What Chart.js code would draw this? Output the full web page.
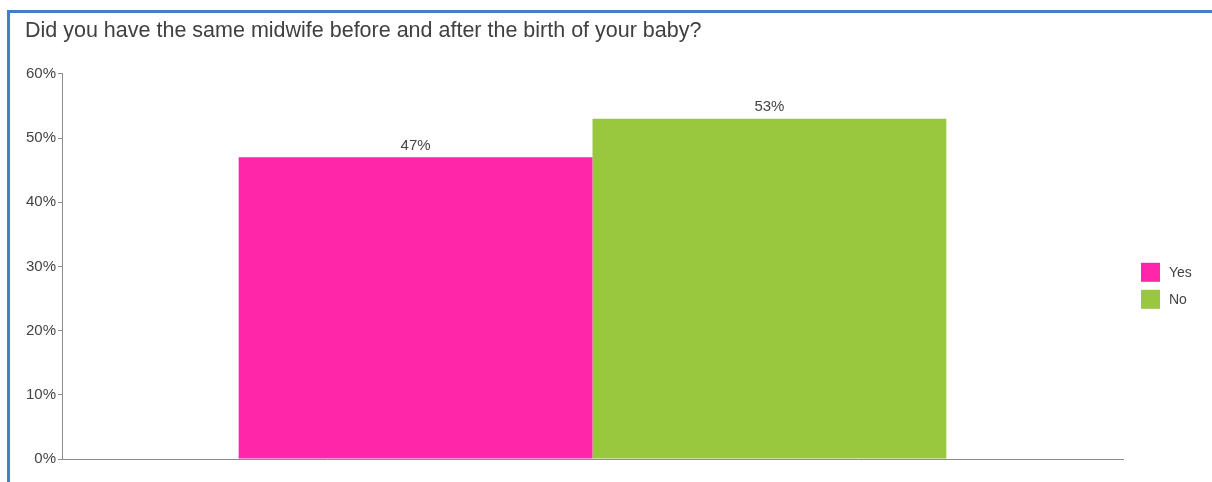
<!DOCTYPE html>
<html>
<head>
<meta charset="utf-8">
<script src="https://cdn.jsdelivr.net/npm/chart.js@4"></script>
<style>
  html, body { margin: 0; padding: 0; background: #fff; overflow: hidden; }
  #wrap { position: relative; width: 1212px; height: 482px; }
  #frame {
    position: absolute; left: 7px; top: 10px; width: 1300px; height: 600px;
    border-left: 3px solid #4a7bcb; border-top: 3px solid #4a7bcb;
  }
  #chart { position: absolute; left: 0; top: 0; }
</style>
</head>
<body>
<div id="wrap">
  <div id="frame"></div>
  <canvas id="chart" width="1212" height="482"></canvas>
</div>
<script>
// Survey answers, percent of respondents
const question = "Did you have the same midwife before and after the birth of your baby?";
const categories = [""];
const answers = ["Yes", "No"];
const percents = [47, 53];
const colors = ["#ff26aa", "#99c73d"];
const yTicks = [0, 10, 20, 30, 40, 50, 60];

const FONT = "'Liberation Sans', Arial, sans-serif";
const TEXT = "#444444";

// value labels above each bar
const barLabels = {
    id: "barLabels",
    afterDatasetsDraw(chart) {
        const ctx = chart.ctx;
        ctx.save();
        ctx.font = "15px " + FONT;
        ctx.fillStyle = TEXT;
        ctx.textAlign = "center";
        ctx.textBaseline = "bottom";
        chart.data.datasets.forEach((ds, i) => {
            const bar = chart.getDatasetMeta(i).data[0];
            ctx.fillText(Math.round(ds.data[0]) + "%", bar.x, bar.y - 4);
        });
        ctx.restore();
    }
};

// legend to the right of the plot
const sideLegend = {
    id: "sideLegend",
    afterDraw(chart) {
        const ctx = chart.ctx;
        const x = chart.chartArea.right + 18;
        let y = chart.chartArea.top + 189;
        ctx.save();
        ctx.font = "14px " + FONT;
        ctx.textBaseline = "middle";
        chart.data.datasets.forEach(ds => {
            ctx.fillStyle = ds.backgroundColor;
            ctx.fillRect(x, y, 19, 19);
            ctx.fillStyle = TEXT;
            ctx.fillText(ds.label, x + 28, y + 10);
            y += 27;
        });
        ctx.restore();
    }
};

const config = {
    type: "bar",
    data: {
        labels: categories,
        datasets: answers.map((name, i) => ({
            label: name,
            data: [percents[i]],
            backgroundColor: colors[i],
            borderWidth: 0
        }))
    },
    options: {
        responsive: false,
        animation: false,
        devicePixelRatio: 1,
        categoryPercentage: 0.667,
        barPercentage: 1,
        layout: { padding: { left: 25, right: 89, top: 0, bottom: 23 } },
        plugins: {
            legend: { display: false },
            tooltip: { enabled: false },
            title: {
                display: true,
                text: question,
                align: "start",
                color: "#404040",
                font: { family: FONT, size: 21.5, weight: "normal" },
                padding: { top: 18, bottom: 30 }
            }
        },
        scales: {
            x: {
                ticks: { display: false },
                grid: { display: false },
                border: { color: "#8c8c8c", width: 1 },
                afterFit(scale) { scale.height = 0; }
            },
            y: {
                min: yTicks[0],
                max: yTicks[yTicks.length - 1],
                afterBuildTicks(scale) { scale.ticks = yTicks.map(v => ({ value: v })); },
                ticks: {
                    color: TEXT,
                    font: { family: FONT, size: 15 },
                    padding: 2,
                    callback: v => v + "%"
                },
                grid: { drawOnChartArea: false, tickLength: 4, color: "#8c8c8c" },
                border: { color: "#8c8c8c", width: 1 },
                afterFit(scale) { scale.width = 37; }
            }
        }
    },
    plugins: [barLabels, sideLegend]
};

new Chart(document.getElementById("chart"), config);
</script>
</body>
</html>
